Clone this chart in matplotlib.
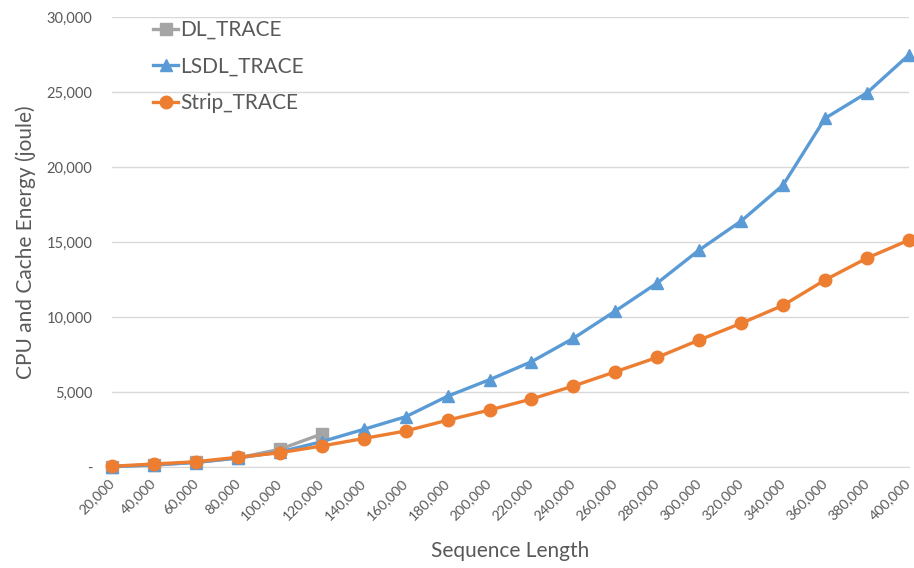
import matplotlib

matplotlib.use("Agg")
import matplotlib.pyplot as plt
from matplotlib.ticker import FuncFormatter

plt.rcParams["font.family"] = ["Lato", "DejaVu Sans"]

# sequence lengths (x categories)
seq_len = [20000, 40000, 60000, 80000, 100000, 120000, 140000, 160000, 180000, 200000,
           220000, 240000, 260000, 280000, 300000, 320000, 340000, 360000, 380000, 400000]

# DL_TRACE only runs up to 120,000
dl_len = seq_len[:6]
dl_trace = [20, 120, 320, 600, 1180, 2200]

lsdl_trace = [30, 150, 300, 600, 1000, 1690, 2510, 3350, 4720, 5820,
              7020, 8580, 10400, 12270, 14470, 16400, 18800, 23250, 24950, 27480]

strip_trace = [50, 200, 350, 650, 950, 1400, 1900, 2400, 3120, 3800,
               4530, 5400, 6350, 7310, 8470, 9580, 10780, 12470, 13930, 15130]

GRAY, BLUE, ORANGE = "#A5A5A5", "#5B9BD5", "#ED7D31"
TXT = "#595959"

fig = plt.figure(figsize=(9.14, 5.68), dpi=100)
ax = fig.add_axes([112 / 914, 1 - 467 / 568, (909 - 112) / 914, (467 - 17) / 568])

ax.plot(dl_len, dl_trace, color=GRAY, lw=2.4, marker="s", ms=8, label="DL_TRACE", zorder=3)
ax.plot(seq_len, lsdl_trace, color=BLUE, lw=2.4, marker="^", ms=9, label="LSDL_TRACE", zorder=4)
ax.plot(seq_len, strip_trace, color=ORANGE, lw=2.4, marker="o", ms=9, label="Strip_TRACE", zorder=5)

ax.set_xlim(20000, 400000)
ax.set_ylim(0, 30000)
ax.set_xticks(seq_len)
ax.set_xticklabels([f"{v:,}" for v in seq_len], rotation=45, ha="right", va="center",
                   rotation_mode="anchor", fontsize=10.2, color=TXT)
ax.set_yticks(range(0, 30001, 5000))
ax.yaxis.set_major_formatter(FuncFormatter(lambda v, _: "-" if v == 0 else f"{int(v):,}"))
ax.tick_params(axis="y", labelsize=10.5, labelcolor=TXT, length=0, pad=14)
ax.tick_params(axis="x", length=0, pad=10)

ax.grid(axis="y", color="#D9D9D9", lw=1)
ax.set_axisbelow(True)
for s in ["top", "right", "left"]:
    ax.spines[s].set_visible(False)
ax.spines["bottom"].set_color("#D9D9D9")
for ln in ax.lines:
    ln.set_clip_on(False)

ax.set_xlabel("Sequence Length", fontsize=15, color=TXT, labelpad=14)
ax.set_ylabel("CPU and Cache Energy (joule)", fontsize=15, color=TXT, labelpad=8)

ax.legend(loc="upper left", bbox_to_anchor=(0.028, 1.035), frameon=False,
          fontsize=15, handlelength=1.2, handletextpad=0.1, labelspacing=0.8,
          labelcolor=TXT)

fig.savefig("out.png", dpi=100)
